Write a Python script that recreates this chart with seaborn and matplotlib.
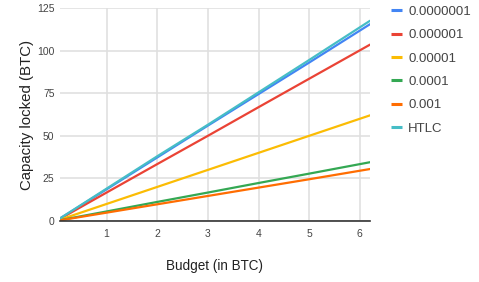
import matplotlib
matplotlib.use("Agg")
import matplotlib.pyplot as plt
import seaborn as sns
import pandas as pd

budget = [0.08, 1, 2, 3, 4, 5, 6.2]
series_names = ["0.0000001", "0.000001", "0.00001", "0.0001", "0.001", "HTLC"]
v_1e7 = [1.5, 18.6, 37.3, 56.0, 74.5, 93.0, 115.5]
v_1e6 = [1.3, 16.7, 33.4, 50.0, 66.8, 83.5, 103.5]
v_1e5 = [0.8, 10.0, 20.0, 30.0, 40.0, 50.0, 62.0]
v_1e4 = [0.5, 5.6, 11.2, 16.7, 22.3, 27.8, 34.5]
v_1e3 = [0.4, 4.9, 9.8, 14.7, 19.6, 24.5, 30.5]
v_htlc = [1.5, 19.0, 38.0, 56.5, 75.5, 94.5, 117.5]
colors = ["#4285F4", "#EA4335", "#FBBC04", "#34A853", "#FF6D01", "#46BDC6"]

rows = []
for name, vals in zip(series_names, [v_1e7, v_1e6, v_1e5, v_1e4, v_1e3, v_htlc]):
    for b, v in zip(budget, vals):
        rows.append({"Budget": b, "Capacity": v, "Series": name})
df = pd.DataFrame(rows)

sns.set_style("white")
plt.rcParams["font.family"] = ["Liberation Sans", "DejaVu Sans"]

fig = plt.figure(figsize=(4.79, 2.82), dpi=100)
ax = fig.add_axes([60 / 479, 1 - 221 / 282, 310 / 479, 213 / 282])

sns.lineplot(data=df, x="Budget", y="Capacity", hue="Series", hue_order=series_names,
             palette=colors, linewidth=1.6, ax=ax, legend=True)

ax.set_xlim(0.08, 6.2)
ax.set_ylim(0, 125)
ax.set_xticks([1, 2, 3, 4, 5, 6])
ax.set_yticks([0, 25, 50, 75, 100, 125])
ax.grid(True, color="#e0e0e0", linewidth=1.2)
ax.set_axisbelow(True)
for s in ["top", "right", "left"]:
    ax.spines[s].set_visible(False)
ax.spines["bottom"].set_color("#333333")
ax.spines["bottom"].set_linewidth(1.2)
ax.tick_params(axis="x", length=0, labelsize=7.5, labelcolor="#444444", pad=6)
ax.tick_params(axis="y", length=0, labelsize=7.5, labelcolor="#444444", pad=4)
ax.set_xlabel("Budget (in BTC)", fontsize=9.75, color="#222222", labelpad=14)
ax.set_ylabel("Capacity locked (BTC)", fontsize=10.8, color="#222222", labelpad=2)

handles, labels = ax.get_legend_handles_labels()
for h in handles:
    h.set_linewidth(2.2)
    h.set_solid_capstyle("butt")
ax.legend(handles, labels, loc="upper left", bbox_to_anchor=(379 / 479, 1 + 6 / 282),
          bbox_transform=fig.transFigure, frameon=False, fontsize=9.5,
          handlelength=0.85, handletextpad=0.45, labelspacing=0.84, labelcolor="#444444")

fig.savefig("out.png", dpi=100)
